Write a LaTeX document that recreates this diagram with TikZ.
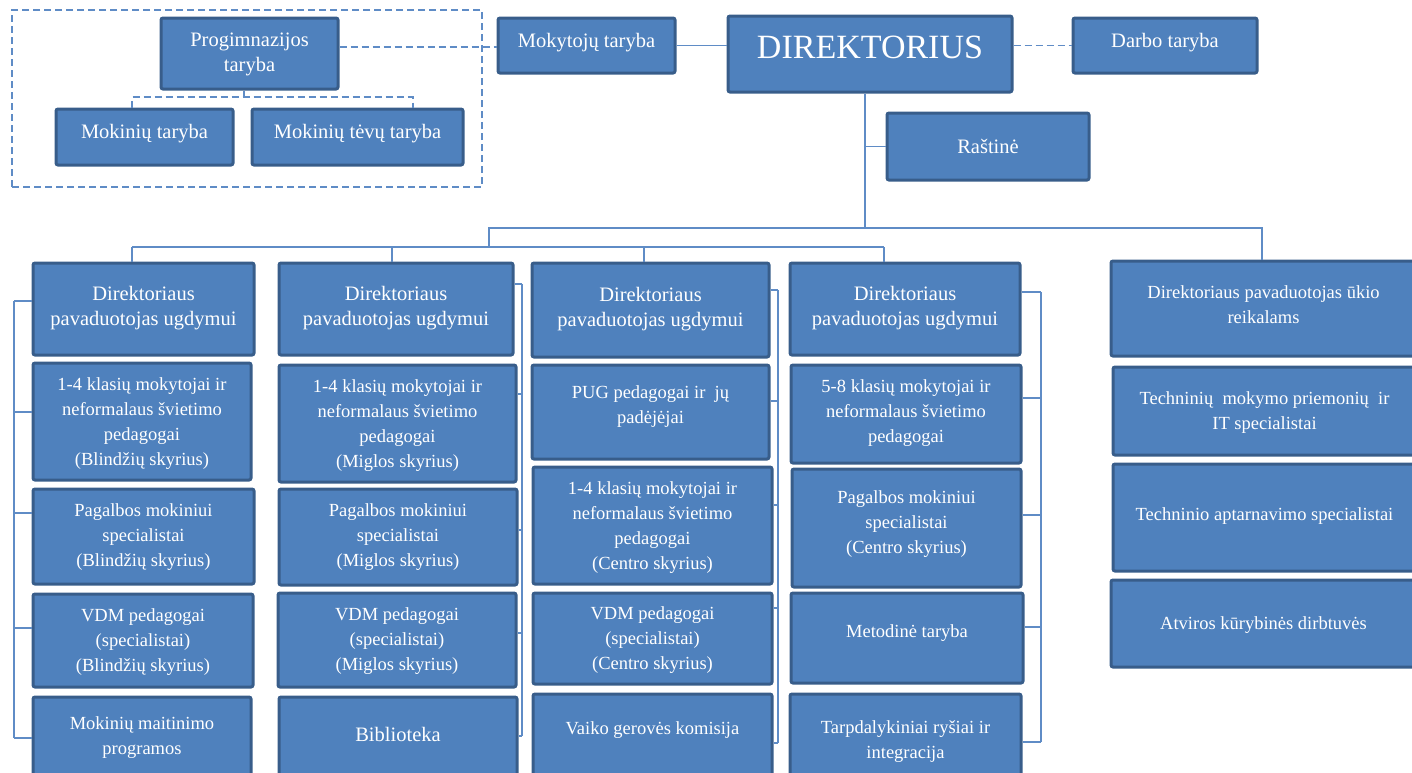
\documentclass[tikz,border=0pt]{standalone}
\usepackage{fontspec}
\setmainfont{Liberation Serif}
\usetikzlibrary{fit}

\definecolor{unitfill}{RGB}{79,129,189}
\definecolor{unitline}{RGB}{56,93,138}
\definecolor{linkcol}{RGB}{95,140,198}

\tikzset{
  unit/.style={draw=unitline, line width=3pt, fill=unitfill, inner sep=0pt, rounded corners=2pt},
  txt/.style={text=white, align=center, inner sep=0pt, anchor=north},
  bigtxt/.style={txt, font=\fontsize{20.5}{25.5}\selectfont},
  smalltxt/.style={txt, font=\fontsize{18.5}{25}\selectfont},
  link/.style={draw=linkcol, line width=1.3pt},
  dlink/.style={link, dash pattern=on 7pt off 4pt},
  group/.style={dlink, inner sep=0pt},
}

\begin{document}
\begin{tikzpicture}[x=1pt, y=-1pt]
   \useasboundingbox (0,0) rectangle (1412,772);
   \clip (0,0) rectangle (1412,772);

   % councils and director
   \node[group, fit={(12,10)(482,187)}] (council) {};
   \node[unit, fit={(161,18)(338,89)}, label={[bigtxt, yshift=-16pt]north:{Progimnazijos\\taryba}}] (prog) {};
   \node[unit, fit={(56,109)(233,165)}, label={[bigtxt, yshift=-17pt]north:{Mokinių taryba}}] (mokt) {};
   \node[unit, fit={(252,109)(463,165)}, label={[bigtxt, yshift=-17pt]north:{Mokinių tėvų taryba}}] (tevu) {};
   \node[unit, fit={(498,18)(675,73)}, label={[bigtxt, yshift=-16.5pt]north:{Mokytojų taryba}}] (mokyt) {};
   \node[unit, fit={(728,16)(1012,92)}, label={[txt, font=\fontsize{34}{40}\selectfont, yshift=-21pt]north:{DIREKTORIUS}}] (dir) {};
   \node[unit, fit={(1073,18)(1257,73)}, label={[bigtxt, yshift=-16.5pt]north:{Darbo taryba}}] (darbo) {};
   \node[unit, fit={(887,113)(1089,180)}, label={[bigtxt, yshift=-28pt]north:{Raštinė}}] (rast) {};

   % first column
   \node[unit, fit={(33,263)(254,355)}, label={[bigtxt, yshift=-24.5pt]north:{Direktoriaus\\pavaduotojas ugdymui}}] (d1) {};
   \node[unit, fit={(33,363)(251,480)}, label={[smalltxt, yshift=-15.5pt]north:{1-4 klasių mokytojai ir\\neformalaus švietimo\\pedagogai\\(Blindžių skyrius)}}] (c1a) {};
   \node[unit, fit={(33,489)(254,584)}, label={[smalltxt, yshift=-16pt]north:{Pagalbos mokiniui\\specialistai\\(Blindžių skyrius)}}] (c1b) {};
   \node[unit, fit={(33,594)(253,687)}, label={[smalltxt, yshift=-15.5pt]north:{VDM pedagogai\\(specialistai)\\(Blindžių skyrius)}}] (c1c) {};
   \node[unit, fit={(33,697)(251,785)}, label={[smalltxt, yshift=-21pt]north:{Mokinių maitinimo\\programos}}] (c1d) {};

   % second column
   \node[unit, fit={(279,263)(513,355)}, label={[bigtxt, yshift=-24.5pt]north:{Direktoriaus\\pavaduotojas ugdymui}}] (d2) {};
   \node[unit, fit={(279,365)(516,482)}, label={[smalltxt, yshift=-15.5pt]north:{1-4 klasių mokytojai ir\\neformalaus švietimo\\pedagogai\\(Miglos skyrius)}}] (c2a) {};
   \node[unit, fit={(279,489)(517,585)}, label={[smalltxt, yshift=-16pt]north:{Pagalbos mokiniui\\specialistai\\(Miglos skyrius)}}] (c2b) {};
   \node[unit, fit={(278,593)(516,687)}, label={[smalltxt, yshift=-16pt]north:{VDM pedagogai\\(specialistai)\\(Miglos skyrius)}}] (c2c) {};
   \node[unit, fit={(279,697)(517,785)}, label={[bigtxt, yshift=-32pt]north:{Biblioteka}}] (c2d) {};

   % third column
   \node[unit, fit={(532,263)(769,357)}, label={[bigtxt, yshift=-25.5pt]north:{Direktoriaus\\pavaduotojas ugdymui}}] (d3) {};
   \node[unit, fit={(532,365)(769,459)}, label={[smalltxt, yshift=-22pt]north:{PUG pedagogai ir\ \ jų\\padėjėjai}}] (c3a) {};
   \node[unit, fit={(533,467)(772,584)}, label={[smalltxt, yshift=-16pt]north:{1-4 klasių mokytojai ir\\neformalaus švietimo\\pedagogai\\(Centro skyrius)}}] (c3b) {};
   \node[unit, fit={(533,593)(772,684)}, label={[smalltxt, yshift=-15pt]north:{VDM pedagogai\\(specialistai)\\(Centro skyrius)}}] (c3c) {};
   \node[unit, fit={(533,694)(772,785)}, label={[smalltxt, yshift=-29pt]north:{Vaiko gerovės komisija}}] (c3d) {};

   % fourth column
   \node[unit, fit={(790,263)(1020,355)}, label={[bigtxt, yshift=-24.5pt]north:{Direktoriaus\\pavaduotojas ugdymui}}] (d4) {};
   \node[unit, fit={(791,365)(1021,463)}, label={[smalltxt, yshift=-16pt]north:{5-8 klasių mokytojai ir\\neformalaus švietimo\\pedagogai}}] (c4a) {};
   \node[unit, fit={(792,469)(1021,587)}, label={[smalltxt, yshift=-23pt]north:{Pagalbos mokiniui\\specialistai\\(Centro skyrius)}}] (c4b) {};
   \node[unit, fit={(791,593)(1023,683)}, label={[smalltxt, yshift=-33pt]north:{Metodinė taryba}}] (c4c) {};
   \node[unit, fit={(790,694)(1021,785)}, label={[smalltxt, yshift=-28pt]north:{Tarpdalykiniai ryšiai ir\\integracija}}] (c4d) {};

   % economy column
   \node[unit, fit={(1111,261)(1416,356)}, label={[smalltxt, yshift=-26pt]north:{Direktoriaus pavaduotojas ūkio\\reikalams}}] (d5) {};
   \node[unit, fit={(1113,367)(1416,455)}, label={[smalltxt, yshift=-26pt]north:{Techninių\ \ mokymo priemonių\ \ ir\\IT specialistai}}] (c5a) {};
   \node[unit, fit={(1113,464)(1416,571)}, label={[smalltxt, yshift=-45pt]north:{Techninio aptarnavimo specialistai}}] (c5b) {};
   \node[unit, fit={(1111,580)(1416,667)}, label={[smalltxt, yshift=-38pt]north:{Atviros kūrybinės dirbtuvės}}] (c5c) {};

   % top links
   \draw[dlink] (prog.east |- 0,47) -- (mokyt.west |- 0,47);
   \draw[link] (mokyt.east) -- (mokyt.east -| dir.west);
   \draw[dlink] (darbo.west -| dir.east) -- (darbo.west);
   \draw[dlink] (prog.south -| 244,0) -- (244,97);
   \draw[dlink] (mokt.north -| 132,0) -- (132,97) -- (413,97) -- (tevu.north -| 413,0);

   \coordinate (trunk) at (865,228);
   \draw[link] (dir.south -| trunk) -- (trunk);
   \draw[link] (rast.west -| trunk) -- (rast.west);
   \draw[link] (489,247) -- (489,228) -- (1262,228) -- (d5.north -| 1262,0);
   \draw[link] (132,247) -- (884,247);
   \foreach \n/\x in {d1/132,d2/392,d3/644,d4/884}
   \draw[link] (\x,247) -- (\n.north -| \x,0);

   % column rails
   \foreach \n/\y in {d1/301,c1a/412,c1b/513,c1c/628,c1d/738}
   \draw[link] (\n.west |- 0,\y) -- (14,\y);
   \draw[link] (14,301) -- (14,738);

   \foreach \n/\y in {d2/284,c2a/394,c2b/530,c2c/633,c2d/736}
   \draw[link] (\n.east |- 0,\y) -- (522,\y);
   \draw[link] (522,284) -- (522,736);

   \foreach \n/\y in {d3/290,c3a/401,c3b/505,c3c/608,c3d/743}
   \draw[link] (\n.east |- 0,\y) -- (778,\y);
   \draw[link] (778,290) -- (778,743);

   \foreach \n/\y in {d4/292,c4a/398,c4b/515,c4c/627,c4d/742}
   \draw[link] (\n.east |- 0,\y) -- (1041,\y);
   \draw[link] (1041,292) -- (1041,742);

\end{tikzpicture}
\end{document}
